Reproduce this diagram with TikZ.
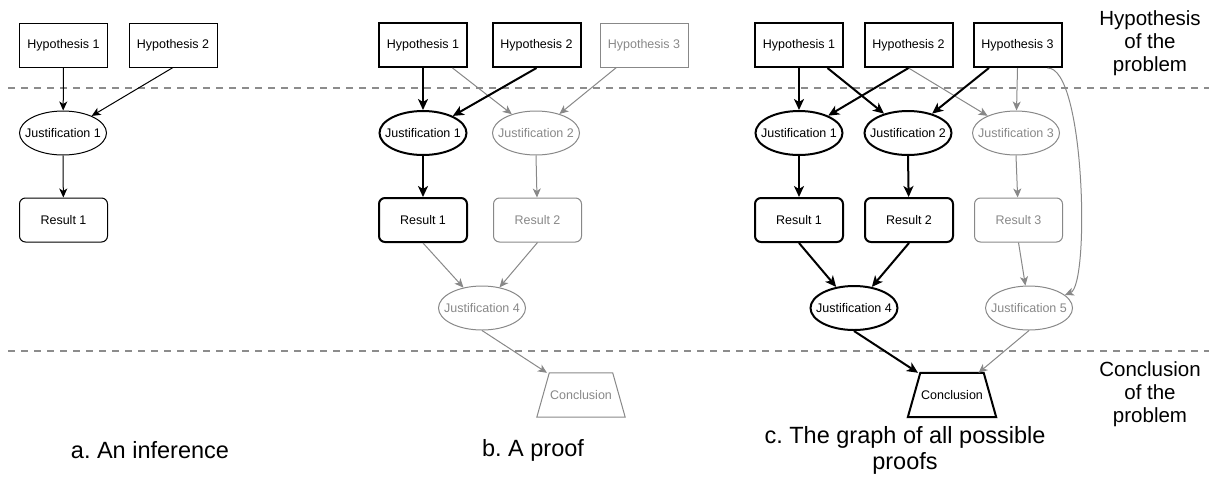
\documentclass[tikz,border=0pt]{standalone}
\usepackage{fontspec}
\setmainfont{Liberation Sans}
\usetikzlibrary{shapes.geometric,arrows.meta}
\definecolor{fade}{RGB}{136,136,136}
\definecolor{sep}{RGB}{140,140,140}
\newcommand{\zw}[1]{\makebox[0pt]{#1}}
\frenchspacing
\begin{document}
\begin{tikzpicture}[x=1pt,y=-1pt,
  every node/.style={inner sep=0pt, font=\fontsize{12.5pt}{14pt}\selectfont},
  hyp/.style={rectangle, minimum width=88pt, minimum height=44pt},
  jus/.style={ellipse, minimum width=87pt, minimum height=44pt},
  res/.style={rectangle, rounded corners=6pt, minimum width=88pt, minimum height=44pt},
  conbox/.style={rectangle, minimum width=88pt, minimum height=44pt},
  on/.style={draw=black, line width=2pt, text=black},
  plain/.style={draw=black, line width=1pt, text=black},
  off/.style={draw=fade, line width=1pt, text=fade},
  trapOn/.style={draw=black, line width=2pt, line join=miter},
  trapOff/.style={draw=fade, line width=1pt},
  arA/.style={draw=black, line width=1pt, -{Stealth[length=9pt,width=8pt,inset=2.5pt]}},
  arB/.style={draw=black, line width=2pt, -{Stealth[length=11pt,width=10pt,inset=3pt]}},
  arG/.style={draw=fade, line width=1pt, -{Stealth[length=9pt,width=8pt,inset=2.5pt]}},
  sepline/.style={draw=sep, line width=2pt, dash pattern=on 7pt off 6pt},
  caption/.style={align=center, font=\fontsize{23.5pt}{26pt}\selectfont},
  side/.style={align=center, font=\fontsize{20.5pt}{23pt}\selectfont}
]
\useasboundingbox (0,0) rectangle (1209,480);

% separators
\coordinate (s1a) at (8,88);
\coordinate (s1b) at (1209,88);
\coordinate (s2a) at (8,351);
\coordinate (s2b) at (1209,351);
\draw[sepline] (s1a) -- (s1b);
\draw[sepline] (s2a) -- (s2b);

% side labels
\node[side] (lh) at (1150,43) {Hypothesis\\of the\\problem};
\node[side] (lc) at (1150,394) {Conclusion\\of the\\problem};

% ---------- panel a ----------
\node[hyp,plain] (aH1) at (63.5,45) {\zw{Hypothesis 1}};
\node[hyp,plain] (aH2) at (173,45) {\zw{Hypothesis 2}};
\node[jus,plain] (aJ1) at (63,133) {\zw{Justification 1}};
\node[res,plain] (aR1) at (63.5,220) {\zw{Result 1}};
\draw[arA] (aH1.south) -- (aJ1);
\draw[arA] (aH2.south) -- (aJ1);
\draw[arA] (aJ1.south) -- (aR1);
\node[caption] (capa) at (150,450) {a. An inference};

% ---------- panel b ----------
\node[hyp,on] (bH1) at (423,45) {\zw{Hypothesis 1}};
\node[hyp,on] (bH2) at (536.5,45) {\zw{Hypothesis 2}};
\node[hyp,off] (bH3) at (644,45) {\zw{Hypothesis 3}};
\node[jus,on] (bJ1) at (423,133) {\zw{Justification 1}};
\node[jus,off] (bJ2) at (536,133) {\zw{Justification 2}};
\node[res,on] (bR1) at (423,220) {\zw{Result 1}};
\node[res,off] (bR2) at (537.5,220) {\zw{Result 2}};
\node[jus,off] (bJ4) at (482,308) {\zw{Justification 4}};
\node[conbox,text=fade] (bC) at (581,395) {\zw{Conclusion}};
\draw[trapOff] (bC.south west) -- ([xshift=12.5pt]bC.north west) -- ([xshift=-12.5pt]bC.north east) -- (bC.south east) -- cycle;
\draw[arG] (bH1) -- (bJ2);
\draw[arG] (bH3) -- (bJ2);
\draw[arB] (bH1.south) -- (bJ1);
\draw[arB] (bH2.south) -- (bJ1);
\draw[arB] (bJ1.south) -- (bR1);
\draw[arG] (bJ2.south) -- (bR2);
\draw[arG] (bR1.south) -- (bJ4);
\draw[arG] (bR2.south) -- (bJ4);
\draw[arG] (bJ4.south) -- (bC);
\node[caption] (capb) at (533,450) {b. A proof};

% ---------- panel c ----------
\node[hyp,on] (cH1) at (799,45) {\zw{Hypothesis 1}};
\node[hyp,on] (cH2) at (908.5,45) {\zw{Hypothesis 2}};
\node[hyp,on] (cH3) at (1017.5,45) {\zw{Hypothesis 3}};
\node[jus,on] (cJ1) at (799,133) {\zw{Justification 1}};
\node[jus,on] (cJ2) at (908,133) {\zw{Justification 2}};
\node[jus,off] (cJ3) at (1016,133) {\zw{Justification 3}};
\node[res,on] (cR1) at (799,220) {\zw{Result 1}};
\node[res,on] (cR2) at (909,220) {\zw{Result 2}};
\node[res,off] (cR3) at (1018.5,220) {\zw{Result 3}};
\node[jus,on] (cJ4) at (854,308) {\zw{Justification 4}};
\node[jus,off] (cJ5) at (1029,308) {\zw{Justification 5}};
\node[conbox,text=black] (cC) at (952,395) {\zw{Conclusion}};
\draw[trapOn] (cC.south west) -- ([xshift=12.5pt]cC.north west) -- ([xshift=-12.5pt]cC.north east) -- (cC.south east) -- cycle;
\draw[arG] (cH2.south) -- (cJ3);
\draw[arG] (cH3.south) -- (cJ3);
\draw[arG] ([xshift=-15pt]cH3.south east) .. controls (1085,67) and (1090,285) .. (cJ5.20);
\draw[arB] (cH1.south) -- (cJ1);
\draw[arB] (cH1) -- (cJ2);
\draw[arB] (cH2.south) -- (cJ1);
\draw[arB] (cH3) -- (cJ2);
\draw[arB] (cJ1.south) -- (cR1);
\draw[arB] (cJ2.south) -- (cR2);
\draw[arG] (cJ3.south) -- (cR3);
\draw[arB] (cR1.south) -- (cJ4);
\draw[arB] (cR2.south) -- (cJ4);
\draw[arG] (cR3.south) -- (cJ5);
\draw[arB] (cJ4.south) -- (cC);
\draw[arG] (cJ5.south) -- (cC);
\node[caption] (capc) at (905,450) {c. The graph of all possible\\proofs};
\end{tikzpicture}
\end{document}
